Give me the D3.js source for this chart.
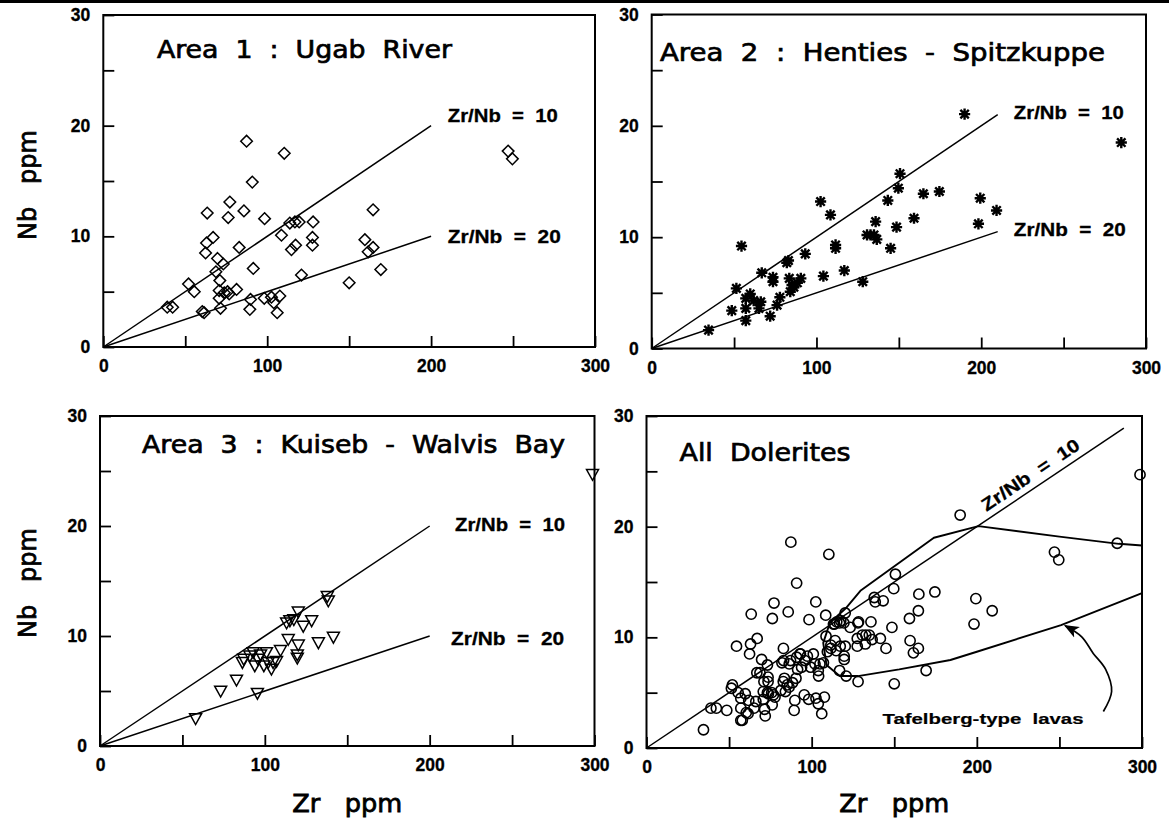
<!DOCTYPE html>
<html><head><meta charset="utf-8">
<script src="https://cdn.jsdelivr.net/npm/d3@7"></script>
<style>body{margin:0;background:#fff}svg{display:block}</style>
</head><body>
<svg id="c" width="1169" height="827"></svg>
<script>
// ---------------- data (Zr ppm, Nb ppm) ----------------
const area1 = [[39,3.6],[42.3,3.6],[52,5.7],[55.5,5.0],[60.4,3.2],[61.5,3.1],[63.4,12.1],[63,9.4],[67,9.9],[62.4,8.5],[69.7,8.0],[73.2,7.5],[68.7,6.8],[71.1,6.0],[70.7,5.1],[70.7,4.4],[71.5,3.5],[73.8,4.9],[75.8,5.0],[76.8,4.8],[81.3,5.2],[77.2,13.1],[76.2,11.7],[85.8,12.3],[82.9,9.0],[87.4,18.6],[90.9,14.9],[91.5,7.1],[89.8,4.3],[89.4,3.4],[98.4,11.6],[98.2,4.4],[102.6,4.5],[104,4.0],[107.7,4.6],[106.1,3.1],[108.7,10.1],[110.4,17.5],[113.8,11.2],[116.9,11.3],[119.5,11.3],[114.8,8.8],[117.3,9.2],[120.9,6.5],[128,11.3],[127.6,9.9],[127.6,9.2],[150,5.8],[159.6,9.7],[161.6,8.6],[164.6,9.0],[164.6,12.4],[169.3,7.0],[247,17.7],[249.6,17.0]];
const area2 = [[34.5,1.65],[48.6,3.4],[51.4,5.4],[54.5,9.2],[57.1,2.5],[57.1,3.6],[57.1,4.5],[59.8,4.9],[61.9,4.3],[65.1,3.6],[66.2,4.2],[66.8,6.8],[71.9,2.9],[73.6,6.4],[73.6,6.0],[76.1,3.9],[77.8,4.6],[82,7.7],[83,7.9],[83.5,6.3],[85.2,5.7],[84.1,5.1],[86.3,5.5],[88.4,5.9],[90.5,6.3],[93.2,8.5],[102.5,13.2],[104.2,6.5],[108.5,12.0],[111.6,9.3],[111.6,9.0],[116.9,7.0],[128.1,6.0],[130.7,10.2],[132.8,10.2],[134.9,10.2],[136.6,9.8],[135.9,11.4],[143.3,13.3],[145,9.0],[148.6,10.9],[149.7,14.4],[150.7,15.7],[159.2,11.7],[164.9,13.9],[174.6,14.1],[189.9,21.05],[198.3,11.2],[199.4,13.5],[209.3,12.4],[285,18.5]];
const area3 = [[58,2.5],[73.2,5.0],[82.8,6.0],[86.4,7.6],[87.2,7.9],[90.9,8.2],[92.9,8.5],[93.9,7.3],[95.9,7.9],[95.5,4.8],[97.4,8.3],[99.4,7.3],[101,8.5],[102,7.6],[104,7.0],[105,7.6],[107.1,7.7],[109.5,8.7],[113.2,11.2],[115.2,11.4],[117.6,11.5],[120.3,12.2],[123.3,10.9],[128.4,11.4],[114.2,9.7],[120.3,9.2],[119.7,8.3],[119.7,8.0],[132.5,9.4],[137.9,13.6],[138.5,13.2],[141.6,9.9],[298.8,24.7]];
const allDolerites = area1.concat(area2, area3);
const tafelbergUpper = [[111,11.3],[116,12.0],[120.5,12.6],[129.5,14.2],[174,19.0],[201,20.05],[250,19.1],[286,18.45],[300,18.3]];
const tafelbergLower = [[300,14.0],[251,11.1],[200,8.7],[184,7.95],[153,7.1],[128,6.5],[117,6.5],[109,7.5],[107,9.5],[111,11.3]];
const arrowCurve = [[276.6,3.3],[281.6,5.1],[278,7.1],[270.5,8.55],[263.5,10.05],[253.5,11.05]];
const ratioValues = [10, 20];
const xTicks = [0,50,100,150,200,250,300];
const xTickLabels = [0,100,200,300];
const yTicks = [0,5,10,15,20,25,30];
const yTickLabels = [0,10,20,30];
const panelTitles = ["Area  1  :  Ugab  River","Area  2  :  Henties  -  Spitzkuppe","Area  3  :  Kuiseb  -  Walvis  Bay","All  Dolerites"];
const ratioLabelText = ["Zr/Nb  =  10","Zr/Nb  =  20"];
const xAxisTitle = "Zr   ppm";
const yAxisTitle = "Nb   ppm";
const fieldLabel = "Tafelberg-type  lavas";

// ---------------- drawing ----------------
const svg = d3.select('#c');
svg.append('rect').attr('x',0).attr('y',0).attr('width',1169).attr('height',3).attr('fill','#000');

const NUM_FONT = '"Liberation Sans", Arial, sans-serif';
const TXT_FONT = '"DejaVu Sans", sans-serif';

function makePanel(cfg){
  const x = d3.scaleLinear().domain([0,300]).range([cfg.l,cfg.r]);
  const y = d3.scaleLinear().domain([0,30]).range([cfg.b,cfg.t]);
  const g = svg.append('g');
  const xa = g.append('g').attr('transform',`translate(0,${cfg.b})`)
    .call(d3.axisBottom(x).tickValues(xTicks).tickSize(-11).tickPadding(13)
      .tickFormat(d => xTickLabels.includes(d) ? d : ''));
  const ya = g.append('g').attr('transform',`translate(${cfg.l},0)`)
    .call(d3.axisLeft(y).tickValues(yTicks).tickSize(-11).tickPadding(13)
      .tickFormat(d => yTickLabels.includes(d) ? d : ''));
  [xa,ya].forEach(a=>{
    a.select('.domain').remove();
    a.selectAll('line').attr('stroke','#000').attr('stroke-width',1.8);
    a.selectAll('text').attr('font-family',NUM_FONT).attr('font-weight','bold').attr('font-size',17.5)
      .attr('fill','#000').attr('stroke','#000').attr('stroke-width',0.3);
  });
  g.append('rect').attr('x',cfg.l).attr('y',cfg.t).attr('width',cfg.r-cfg.l).attr('height',cfg.b-cfg.t)
    .attr('fill','none').attr('stroke','#000').attr('stroke-width',2);
  return {g,x,y};
}

function ratioLine(p, r, xEnd){
  p.g.append('line').attr('x1',p.x(0)).attr('y1',p.y(0)).attr('x2',p.x(xEnd)).attr('y2',p.y(xEnd/r))
    .attr('stroke','#000').attr('stroke-width',1.5);
}
function label(p, text, xv, yv, size, len, weight, font, sw){
  return p.g.append('text').attr('x',p.x(xv)).attr('y',p.y(yv)).attr('dy','0.36em')
    .attr('font-family',font||TXT_FONT).attr('font-size',size).attr('font-weight',weight||'normal')
    .attr('stroke','#000').attr('stroke-width',sw==null?0.7:sw)
    .style('white-space','pre').attr('textLength',len).attr('lengthAdjust','spacingAndGlyphs').text(text);
}

const panels = [
  {l:103.3,r:595,t:15,b:347},
  {l:651.7,r:1146,t:14.5,b:348.5},
  {l:100,r:594.5,t:416,b:746},
  {l:646.5,r:1142,t:416,b:748}
].map(makePanel);

// Panel 1
const p1 = panels[0];
ratioValues.forEach(r=>ratioLine(p1,r,200));
p1.g.append('g').selectAll('path').data(area1).join('path')
  .attr('transform',d=>`translate(${p1.x(d[0])},${p1.y(d[1])})`)
  .attr('d','M0,-5.8L5.8,0L0,5.8L-5.8,0Z').attr('fill','none').attr('stroke','#000').attr('stroke-width',1.5);
label(p1,panelTitles[0],32.7,26.9,24,295);
label(p1,ratioLabelText[0],210.2,20.9,18,110,'bold',NUM_FONT,0.3);
label(p1,ratioLabelText[1],210.2,9.94,18,113,'bold',NUM_FONT,0.3);

// Panel 2
const p2 = panels[1];
ratioValues.forEach(r=>ratioLine(p2,r,210));
p2.g.append('g').selectAll('path').data(area2).join('path')
  .attr('transform',d=>`translate(${p2.x(d[0])},${p2.y(d[1])})`)
  .attr('d','M-5.6,0H5.6M0,-5.6V5.6M-4.2,-4.2L4.2,4.2M-4.2,4.2L4.2,-4.2')
  .attr('fill','none').attr('stroke','#000').attr('stroke-width',2.4);
label(p2,panelTitles[1],5,26.6,24,445);
label(p2,ratioLabelText[0],219.8,21.2,18,110,'bold',NUM_FONT,0.3);
label(p2,ratioLabelText[1],219.8,10.65,18,112,'bold',NUM_FONT,0.3);

// Panel 3
const p3 = panels[2];
ratioValues.forEach(r=>ratioLine(p3,r,200));
p3.g.append('g').selectAll('path').data(area3).join('path')
  .attr('transform',d=>`translate(${p3.x(d[0])},${p3.y(d[1])})`)
  .attr('d','M-6,-4.8L6,-4.8L0,6Z').attr('fill','none').attr('stroke','#000').attr('stroke-width',1.5);
label(p3,panelTitles[2],25.5,27.4,24,423);
label(p3,ratioLabelText[0],215.4,20.1,18,110,'bold',NUM_FONT,0.3);
label(p3,ratioLabelText[1],213,9.8,18,113,'bold',NUM_FONT,0.3);

// Panel 4
const p4 = panels[3];
ratioLine(p4,10,289);
const lineGen = d3.line().x(d=>p4.x(d[0])).y(d=>p4.y(d[1]));
p4.g.append('path').attr('d',lineGen(tafelbergUpper.concat(tafelbergLower)))
  .attr('fill','none').attr('stroke','#000').attr('stroke-width',1.9).attr('stroke-linejoin','round');
p4.g.append('g').selectAll('circle').data(allDolerites).join('circle')
  .attr('cx',d=>p4.x(d[0])).attr('cy',d=>p4.y(d[1])).attr('r',5.1)
  .attr('fill','none').attr('stroke','#000').attr('stroke-width',1.6);
label(p4,panelTitles[3],20,26.7,24,171);
{
  const ang = Math.atan2(p4.y(0)-p4.y(28.9), p4.x(289)-p4.x(0))*180/Math.PI;
  p4.g.append('text').attr('transform',`translate(${p4.x(232.4)},${p4.y(24.7)}) rotate(${-ang})`)
    .attr('text-anchor','middle').attr('dy','0.36em')
    .attr('font-family',NUM_FONT).attr('font-weight','bold').attr('font-size',18)
    .attr('stroke','#000').attr('stroke-width',0.3)
    .style('white-space','pre').attr('textLength',114).attr('lengthAdjust','spacingAndGlyphs')
    .text(ratioLabelText[0]);
}
label(p4,fieldLabel,142.9,2.7,15.5,201,'bold',NUM_FONT,0.2);
svg.append('defs').append('marker').attr('id','ah').attr('viewBox','0 0 10 10')
  .attr('refX',9).attr('refY',5).attr('markerWidth',15).attr('markerHeight',15)
  .attr('markerUnits','userSpaceOnUse').attr('orient','auto')
  .append('path').attr('d','M0,1L10,5L0,9L2.5,5Z').attr('fill','#000');
p4.g.append('path').attr('d',d3.line().x(d=>p4.x(d[0])).y(d=>p4.y(d[1])).curve(d3.curveCatmullRom)(arrowCurve))
  .attr('fill','none').attr('stroke','#000').attr('stroke-width',1.7).attr('marker-end','url(#ah)');

// axis titles
function axisTitle(text, cx, cy, rot){
  svg.append('text').attr('transform',`translate(${cx},${cy}) rotate(${rot})`)
    .attr('text-anchor','middle').attr('dy','0.36em')
    .attr('font-family',TXT_FONT).attr('font-size',25).attr('stroke','#000').attr('stroke-width',0.8)
    .style('white-space','pre')
    .attr('textLength',110).attr('lengthAdjust','spacingAndGlyphs').text(text);
}
axisTitle(yAxisTitle, 27, (panels[0].y(0)+panels[0].y(30))/2+4, -90);
axisTitle(yAxisTitle, 27, (panels[2].y(0)+panels[2].y(30))/2+2, -90);
axisTitle(xAxisTitle, (panels[2].x(0)+panels[2].x(300))/2, 803, 0);
axisTitle(xAxisTitle, (panels[3].x(0)+panels[3].x(300))/2, 803, 0);
</script>
</body></html>
